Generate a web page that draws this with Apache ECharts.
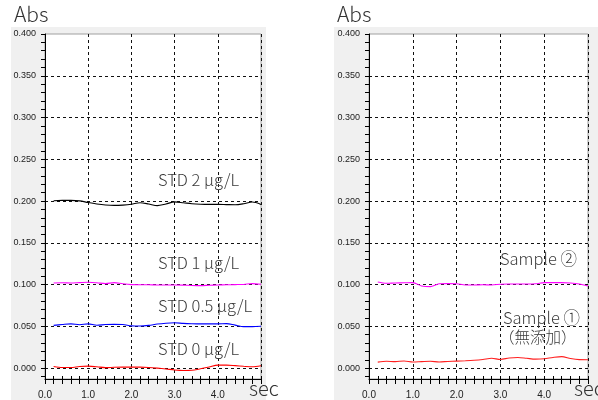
<!DOCTYPE html>
<html>
<head>
<meta charset="utf-8">
<script src="https://cdn.jsdelivr.net/npm/echarts@6/dist/echarts.min.js"></script>
<style>
html,body{margin:0;padding:0;background:#fff;}
#chart{width:598px;height:400px;}
</style>
</head>
<body>
<div id="chart"></div>
<script>
// Time axis (sec)
const time = [0.2,0.4,0.6,0.8,1.0,1.2,1.4,1.6,1.8,2.0,2.2,2.4,2.6,2.8,3.0,3.2,3.4,3.6,3.8,4.0,4.2,4.4,4.6,4.8,5.0];
// Left panel: standards (Abs)
const std2  = [0.2004,0.2008,0.2008,0.2002,0.1982,0.1965,0.1953,0.1948,0.1952,0.1962,0.1980,0.1965,0.1945,0.1965,0.1990,0.1980,0.1968,0.1962,0.1960,0.1960,0.1958,0.1956,0.1968,0.1988,0.1960];
const std1  = [0.1020,0.1022,0.1020,0.1024,0.1028,0.1022,0.1012,0.1024,0.1010,0.1000,0.0998,0.0998,0.0996,0.0996,0.0996,0.0994,0.0990,0.0988,0.0992,0.0996,0.0998,0.1000,0.1002,0.1012,0.1004];
const std05 = [0.0512,0.0522,0.0530,0.0520,0.0530,0.0514,0.0522,0.0524,0.0523,0.0506,0.0504,0.0512,0.0528,0.0538,0.0543,0.0536,0.0532,0.0530,0.0531,0.0530,0.0533,0.0515,0.0497,0.0497,0.0501];
const std0  = [0.0020,0.0008,0.0008,0.0020,0.0024,0.0016,0.0006,0.0010,0.0012,0.0012,0.0012,0.0008,0.0000,-0.0010,-0.0022,-0.0028,-0.0026,-0.0008,0.0014,0.0036,0.0036,0.0030,0.0022,0.0016,0.0028];
// Right panel: samples (Abs)
const sample2 = [0.1032,0.1016,0.1020,0.1022,0.1024,0.0984,0.0976,0.1010,0.1012,0.1010,0.0996,0.0996,0.0998,0.0996,0.1004,0.1008,0.1008,0.1008,0.1010,0.1024,0.1024,0.1024,0.1020,0.1008,0.0984];
const sample1 = [0.0072,0.0082,0.0078,0.0086,0.0074,0.0078,0.0082,0.0074,0.0080,0.0084,0.0088,0.0094,0.0104,0.0118,0.0104,0.0122,0.0128,0.0118,0.0108,0.0112,0.0128,0.0138,0.0116,0.0102,0.0100];
// Axis tick values
const yLabelValues = [0,0.05,0.1,0.15,0.2,0.25,0.3,0.35,0.4];
const ySplitValues = [0,0.05,0.1,0.15,0.2,0.25,0.3,0.35];
const yTickValues = [-0.01,0,0.01,0.02,0.03,0.04,0.05,0.06,0.07,0.08,0.09,0.1,0.11,0.12,0.13,0.14,0.15,0.16,0.17,0.18,0.19,0.2,0.21,0.22,0.23,0.24,0.25,0.26,0.27,0.28,0.29,0.3,0.31,0.32,0.33,0.34,0.35,0.36,0.37,0.38,0.39,0.4];
const labelsLeft = ['STD 2 μg/L','STD 1 μg/L','STD 0.5 μg/L','STD 0 μg/L'];
const labelsRight = ['Sample ②','Sample ①','（無添加）'];

const FONT = '"Noto Sans CJK JP","Noto Sans",sans-serif';
const YMIN = -0.013, YMAX = 0.4;
const pairs = v => time.map((t,i)=>[t,v[i]]);

function xAxes(gi){
  return [{
    type:'value', gridIndex:gi, min:0, max:5, interval:1, position:'bottom',
    axisLine:{show:true,onZero:false,lineStyle:{color:'#000',width:1}},
    axisTick:{show:true,length:5,lineStyle:{color:'#000'}},
    minorTick:{show:true,splitNumber:5,length:5,lineStyle:{color:'#000'}},
    axisLabel:{margin:11,fontSize:10,color:'#222',fontFamily:'"Liberation Sans",sans-serif',
      formatter:v=> v>=5 ? '' : v.toFixed(1)},
    splitLine:{show:true,lineStyle:{color:'#111',type:[3,3],width:1}}
  },{
    type:'value', gridIndex:gi, min:0, max:5, interval:1, position:'bottom',
    axisLine:{show:false,onZero:false},
    axisTick:{show:true,inside:true,length:3,lineStyle:{color:'#000'}},
    minorTick:{show:true,splitNumber:5,length:3,lineStyle:{color:'#000'}},
    axisLabel:{show:false}, splitLine:{show:false}
  }];
}
function yAxes(gi){
  return [{
    type:'value', gridIndex:gi, min:YMIN, max:YMAX, position:'left',
    axisLine:{show:true,onZero:false,lineStyle:{color:'#000',width:1}},
    axisTick:{show:true,length:4,customValues:yTickValues,lineStyle:{color:'#000'}},
    axisLabel:{margin:9,fontSize:9,color:'#222',fontFamily:'"Liberation Sans",sans-serif',
      customValues:yLabelValues, formatter:v=>v.toFixed(3)},
    splitLine:{show:false}
  },{
    type:'value', gridIndex:gi, min:YMIN, max:YMAX, position:'left',
    axisLine:{show:false,onZero:false}, axisLabel:{show:false},
    axisTick:{show:false,customValues:ySplitValues},
    splitLine:{show:true,lineStyle:{color:'#111',type:[3,3],width:1}}
  }];
}
function line(name,data,color,xi,yi){
  return {name, type:'line', xAxisIndex:xi, yAxisIndex:yi, data:pairs(data),
    showSymbol:false, smooth:0.3, clip:false, lineStyle:{color,width:1.1}, z:5};
}
function txt(x,y,s,size){
  const fs = size||16.5;
  return {type:'text', left:x, top:y, z:20,
    style:{text:s, fill:'#3a3a3a', font:'300 '+fs+'px '+FONT}};
}

const chart = echarts.init(document.getElementById('chart'));
chart.setOption({
  animation:false,
  backgroundColor:'#fff',
  grid:[
    {left:45, top:34, width:216, height:345, show:true, backgroundColor:'#fff', borderColor:'#a0a0a0', borderWidth:1},
    {left:369, top:34, width:219, height:345, show:true, backgroundColor:'#fff', borderColor:'#a0a0a0', borderWidth:1}
  ],
  xAxis:[...xAxes(0), ...xAxes(1)],
  yAxis:[...yAxes(0), ...yAxes(1)],
  series:[
    line('STD 2',std2,'#000000',0,0),
    line('STD 1',std1,'#ff00ff',0,0),
    line('STD 0.5',std05,'#0000ff',0,0),
    line('STD 0',std0,'#ff0000',0,0),
    line('Sample 2',sample2,'#ff00ff',2,2),
    line('Sample 1',sample1,'#ff2020',2,2)
  ],
  graphic:{elements:[
    {type:'rect', left:11, top:27, z:-100, shape:{width:255,height:373}, style:{fill:'#f0f0f0'}},
    {type:'rect', left:334, top:27, z:-100, shape:{width:264,height:373}, style:{fill:'#f0f0f0'}},
    {type:'text', left:14, top:4, z:20, style:{text:'Abs', font:'300 21px '+FONT, fill:'#333'}},
    {type:'text', left:337, top:4, z:20, style:{text:'Abs', font:'300 21px '+FONT, fill:'#333'}},
    {type:'text', left:249, top:378, z:20, style:{text:'sec', font:'300 20px '+FONT, fill:'#333'}},
    {type:'text', left:574, top:378, z:20, style:{text:'sec', font:'300 20px '+FONT, fill:'#333'}},
    txt(158,171,labelsLeft[0]),
    txt(158,254,labelsLeft[1]),
    txt(158,297,labelsLeft[2]),
    txt(158,340,labelsLeft[3]),
    txt(500,250,labelsRight[0]),
    txt(503,309,labelsRight[1]),
    txt(499,329,labelsRight[2],15.5)
  ]}
});
</script>
</body>
</html>
